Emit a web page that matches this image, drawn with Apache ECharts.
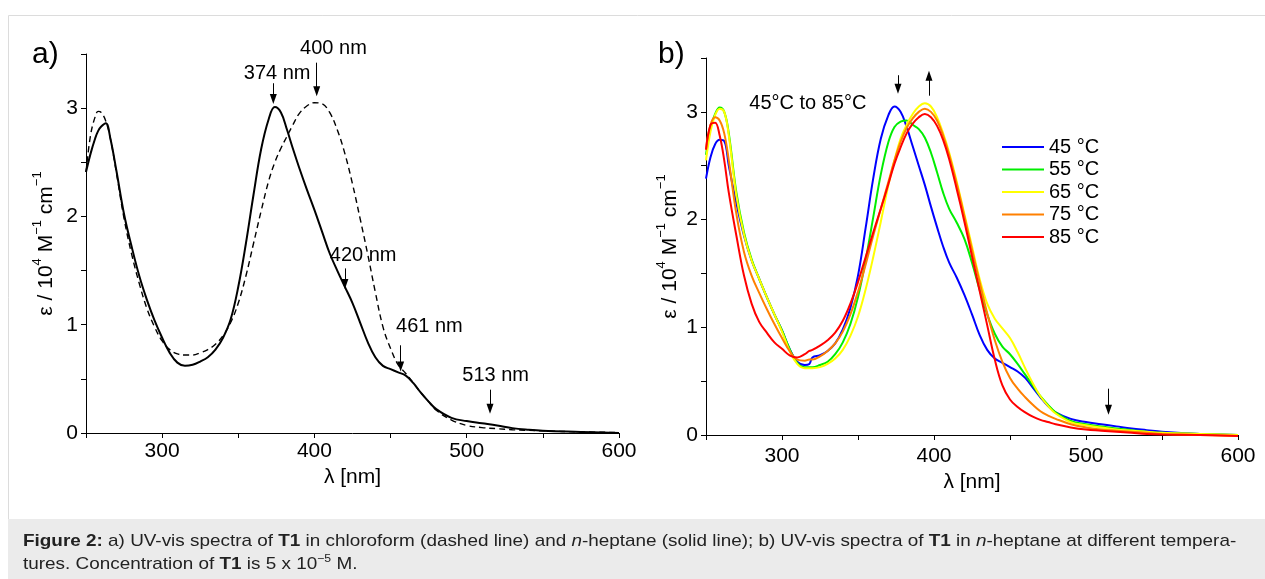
<!DOCTYPE html>
<html>
<head>
<meta charset="utf-8">
<script src="https://cdn.jsdelivr.net/npm/echarts@6/dist/echarts.min.js"></script>
<style>
html,body{margin:0;padding:0;background:#fff;}
#c{width:1265px;height:579px;}
</style>
</head>
<body>
<div id="c"></div>
<script>
// ---------- Panel a data ----------
var wlA = [250,253,256,258,260,263,266,270,275,280,285,290,295,300,305,310,315,320,325,330,335,340,345,350,355,360,365,370,374,378,382,386,390,395,400,405,410,415,420,425,430,435,440,445,450,455,460,465,470,475,480,490,500,510,520,530,540,550,575,600];
var heptaneA = [2.41,2.58,2.72,2.79,2.83,2.86,2.72,2.42,2.02,1.72,1.45,1.23,1.04,0.88,0.74,0.65,0.62,0.63,0.66,0.70,0.77,0.88,1.05,1.35,1.75,2.20,2.62,2.90,3.01,2.96,2.80,2.62,2.45,2.25,2.06,1.86,1.66,1.50,1.35,1.20,1.02,0.84,0.70,0.62,0.59,0.56,0.53,0.46,0.37,0.29,0.22,0.14,0.11,0.09,0.07,0.045,0.03,0.02,0.01,0.0];
var chloroformA = [2.41,2.75,2.92,2.97,2.96,2.88,2.72,2.40,1.98,1.65,1.38,1.15,0.98,0.85,0.77,0.73,0.72,0.72,0.74,0.77,0.82,0.90,1.02,1.20,1.45,1.75,2.05,2.33,2.50,2.63,2.74,2.85,2.95,3.02,3.05,3.04,2.96,2.80,2.58,2.30,1.98,1.65,1.30,0.98,0.78,0.63,0.55,0.46,0.37,0.29,0.21,0.12,0.07,0.05,0.04,0.03,0.025,0.02,0.01,0.005];

// ---------- Panel b data ----------
var wlB = [250,253,256,259,262,265,270,275,280,285,290,295,300,305,310,315,318,320,325,330,335,340,345,350,355,360,365,370,374,378,382,386,390,394,398,402,406,410,415,420,425,430,435,440,445,450,455,460,465,470,475,480,490,500,510,520,530,540,550,575,600];
var t45 = [2.38,2.58,2.70,2.74,2.73,2.50,2.15,1.85,1.62,1.45,1.28,1.12,0.97,0.80,0.68,0.65,0.66,0.72,0.74,0.78,0.85,0.98,1.18,1.48,1.92,2.38,2.75,2.97,3.05,3.00,2.86,2.68,2.50,2.32,2.12,1.93,1.75,1.60,1.46,1.30,1.12,0.93,0.79,0.71,0.67,0.63,0.59,0.53,0.44,0.35,0.27,0.21,0.15,0.12,0.10,0.08,0.06,0.045,0.03,0.01,0.0];
var t55 = [2.60,2.85,2.98,3.04,3.00,2.80,2.25,1.88,1.63,1.45,1.28,1.12,0.97,0.80,0.67,0.63,0.63,0.63,0.65,0.68,0.75,0.86,1.03,1.28,1.62,2.02,2.42,2.72,2.86,2.91,2.92,2.88,2.84,2.76,2.62,2.44,2.25,2.10,1.97,1.82,1.60,1.35,1.12,0.94,0.82,0.75,0.66,0.56,0.46,0.36,0.28,0.21,0.13,0.10,0.08,0.06,0.045,0.03,0.02,0.01,0.0];
var t65 = [2.55,2.82,2.97,3.03,3.00,2.78,2.22,1.86,1.62,1.45,1.28,1.12,0.96,0.78,0.66,0.62,0.62,0.62,0.63,0.66,0.71,0.79,0.92,1.10,1.35,1.65,1.98,2.32,2.55,2.75,2.88,2.98,3.05,3.08,3.05,2.95,2.80,2.62,2.35,2.05,1.75,1.45,1.22,1.08,0.99,0.90,0.77,0.62,0.48,0.36,0.27,0.20,0.12,0.09,0.07,0.05,0.04,0.03,0.02,0.01,0.0];
var t75 = [2.65,2.88,2.95,2.92,2.80,2.55,2.05,1.70,1.48,1.32,1.17,1.03,0.90,0.78,0.70,0.69,0.70,0.70,0.73,0.78,0.85,0.96,1.12,1.33,1.58,1.85,2.10,2.35,2.55,2.72,2.85,2.94,3.00,3.03,3.00,2.92,2.78,2.60,2.33,2.03,1.72,1.42,1.13,0.88,0.68,0.53,0.43,0.35,0.28,0.22,0.18,0.15,0.10,0.07,0.05,0.04,0.03,0.02,0.01,0.0,-0.01];
var t85 = [2.65,2.88,2.90,2.78,2.55,2.25,1.85,1.48,1.22,1.05,0.95,0.86,0.80,0.74,0.72,0.75,0.78,0.79,0.83,0.88,0.95,1.06,1.22,1.42,1.65,1.88,2.10,2.33,2.52,2.67,2.80,2.89,2.95,2.98,2.95,2.87,2.74,2.56,2.28,1.98,1.66,1.34,1.02,0.70,0.46,0.33,0.26,0.21,0.17,0.14,0.12,0.10,0.07,0.05,0.04,0.03,0.02,0.01,0.005,0.0,-0.01];
var tempNames = ['45 °C','55 °C','65 °C','75 °C','85 °C'];
var tempColors = ['#0000ff','#00ee00','#ffff00','#ff8000','#ff0000'];

// ---------- tick labels / annotations ----------
var xTickLabels = [300,400,500,600];
var yTickLabels = [0,1,2,3];
var peakLabelsA = [['374 nm',375.5,3.32,0],['400 nm',412.5,3.5,-6],['420 nm',432,1.64,0],['461 nm',475.5,0.98,0],['513 nm',519,0.53,0]];
var arrowsA = [[373,3.23,3.085],[401.5,3.42,3.155],[420,1.52,1.375],[456.6,0.81,0.615],[515.3,0.40,0.225]];
var arrowsB = [[376.3,3.34,3.215],[396.7,3.15,3.335],[514.8,0.43,0.235]];
var curveNote = ['45°C to 85°C', 317, 3.08];

function zip(xs, ys){ return xs.map(function(x,i){ return [x, ys[i]]; }); }

var FONT = '"Liberation Sans", Arial, sans-serif';
var nameRich = {
  n: {fontSize: 21, fontFamily: FONT, color:'#000', lineHeight: 26, verticalAlign:'bottom'},
  s: {fontSize: 13, fontFamily: FONT, color:'#000', lineHeight: 26, verticalAlign:'top'}
};
var yName = '{n|ε / 10}{s|4}{n| M}{s|−1}{n| cm}{s|−1}';

function xAxisCfg(gi, gap, margin){
  return {
    type:'value', gridIndex: gi, min:250, max:600, interval:50,
    name:'λ [nm]', nameLocation:'middle', nameGap: gap,
    nameTextStyle:{fontSize:21, fontFamily:FONT, color:'#000'},
    axisLine:{show:true, onZero:false, lineStyle:{color:'#000', width:1}},
    axisTick:{show:true, length:5, lineStyle:{color:'#000'}},
    splitLine:{show:false},
    axisLabel:{fontSize:21, fontFamily:FONT, color:'#000', margin:margin,
      formatter:function(v){ return xTickLabels.indexOf(v)>=0 ? String(v) : ''; }}
  };
}
function yAxisCfg(gi, gap){
  return {
    type:'value', gridIndex: gi, min:0, max:3.5, interval:0.5,
    name: yName, nameLocation:'middle', nameGap: gap, nameRotate: 90,
    nameTextStyle:{rich: nameRich},
    axisLine:{show:true, onZero:false, lineStyle:{color:'#000', width:1}},
    axisTick:{show:true, length:5, lineStyle:{color:'#000'}},
    splitLine:{show:false},
    axisLabel:{fontSize:21, fontFamily:FONT, color:'#000', margin:8,
      formatter:function(v){ return yTickLabels.indexOf(v)>=0 ? String(v) : ''; }}
  };
}
function arrowMark(list){
  return {
    silent:true, symbol:['none','triangle'], symbolSize:10, precision:3,
    label:{show:false}, emphasis:{disabled:true},
    lineStyle:{color:'#000', width:1, type:'solid'},
    data: list.map(function(a){
      return [{coord:[a[0],a[1]], symbol:'none'},
              {coord:[a[0],a[2]], symbol:'triangle', symbolSize:[7,10]}];
    })
  };
}
var textMarkLabel = {show:true, position:'inside', formatter:'{b}', fontSize:20, fontFamily:FONT, color:'#000'};

var series = [
  {type:'line', name:'chloroform', xAxisIndex:0, yAxisIndex:0, data: zip(wlA, chloroformA),
   showSymbol:false, symbol:'none', smooth:0.4, clip:false,
   lineStyle:{color:'#000', width:1.4, type:[6,4]}},
  {type:'line', name:'n-heptane', xAxisIndex:0, yAxisIndex:0, data: zip(wlA, heptaneA),
   showSymbol:false, symbol:'none', smooth:0.4, clip:false,
   lineStyle:{color:'#000', width:2},
   markLine: arrowMark(arrowsA),
   markPoint:{
     symbol:'circle', symbolSize:0, silent:true, label: textMarkLabel,
     data: peakLabelsA.map(function(p){ return {name:p[0], coord:[p[1],p[2]], label:{offset:[0,p[3]]}}; })
   }}
];
var tempData = [t45,t55,t65,t75,t85];
tempData.forEach(function(arr, i){
  var s = {type:'line', name: tempNames[i], xAxisIndex:1, yAxisIndex:1, data: zip(wlB, arr),
    showSymbol:false, symbol:'none', smooth:0.4, clip:false,
    lineStyle:{color: tempColors[i], width:2}, itemStyle:{color: tempColors[i]}};
  if (i === 0) {
    s.markLine = arrowMark(arrowsB);
    s.markPoint = {
      symbol:'circle', symbolSize:0, silent:true, label: textMarkLabel,
      data:[{name: curveNote[0], coord:[curveNote[1], curveNote[2]]}]
    };
  }
  series.push(s);
});

var capRich = {
  n:{fontSize:17, fontFamily:FONT, fill:'#222', lineHeight:20, verticalAlign:'bottom'},
  b:{fontSize:17, fontFamily:FONT, fontWeight:'bold', fill:'#222', lineHeight:20, verticalAlign:'bottom'},
  i:{fontSize:17, fontFamily:FONT, fontStyle:'italic', fill:'#222', lineHeight:20, verticalAlign:'bottom'},
  s:{fontSize:11, fontFamily:FONT, fill:'#222', lineHeight:20, verticalAlign:'top'}
};

var chart = echarts.init(document.getElementById('c'), null, {renderer:'canvas'});
chart.setOption({
  animation:false,
  backgroundColor:'#fff',
  grid:[
    {left:86, top:54, width:533, height:379},
    {left:706, top:58, width:532, height:377}
  ],
  xAxis:[xAxisCfg(0, 32, 8), xAxisCfg(1, 35, 11)],
  yAxis:[yAxisCfg(0, 29), yAxisCfg(1, 25)],
  legend:{
    data: tempNames, orient:'vertical', left:1002, top:137, padding:0,
    itemWidth:42, itemHeight:2, itemGap:2.5, icon:'rect',
    textStyle:{fontSize:20, fontFamily:FONT, color:'#000', lineHeight:20},
    selectedMode:false
  },
  graphic:[
    {type:'rect', silent:true, z:-10, shape:{x:8.5, y:15.5, width:1270, height:600}, style:{fill:'#fff', stroke:'#dcdcdc', lineWidth:1}},
    {type:'rect', silent:true, z:-5, shape:{x:8, y:519, width:1260, height:62}, style:{fill:'#ebebeb'}},
    {type:'text', left:32, top:40, style:{text:'a)', fontSize:30, fontFamily:FONT, fill:'#000'}},
    {type:'text', left:658, top:40, style:{text:'b)', fontSize:30, fontFamily:FONT, fill:'#000'}},
    {type:'text', x:23, y:530, scaleX:1.112, style:{
      text:'{b|Figure 2:}{n| a) UV-vis spectra of }{b|T1}{n| in chloroform (dashed line) and }{i|n}{n|-heptane (solid line); b) UV-vis spectra of }{b|T1}{n| in }{i|n}{n|-heptane at different tempera-}',
      rich: capRich
    }},
    {type:'text', x:23, y:553, scaleX:1.112, style:{
      text:'{n|tures. Concentration of }{b|T1}{n| is 5 x 10}{s|−5}{n| M.}',
      rich: capRich
    }}
  ],
  series: series
});
</script>
</body>
</html>
